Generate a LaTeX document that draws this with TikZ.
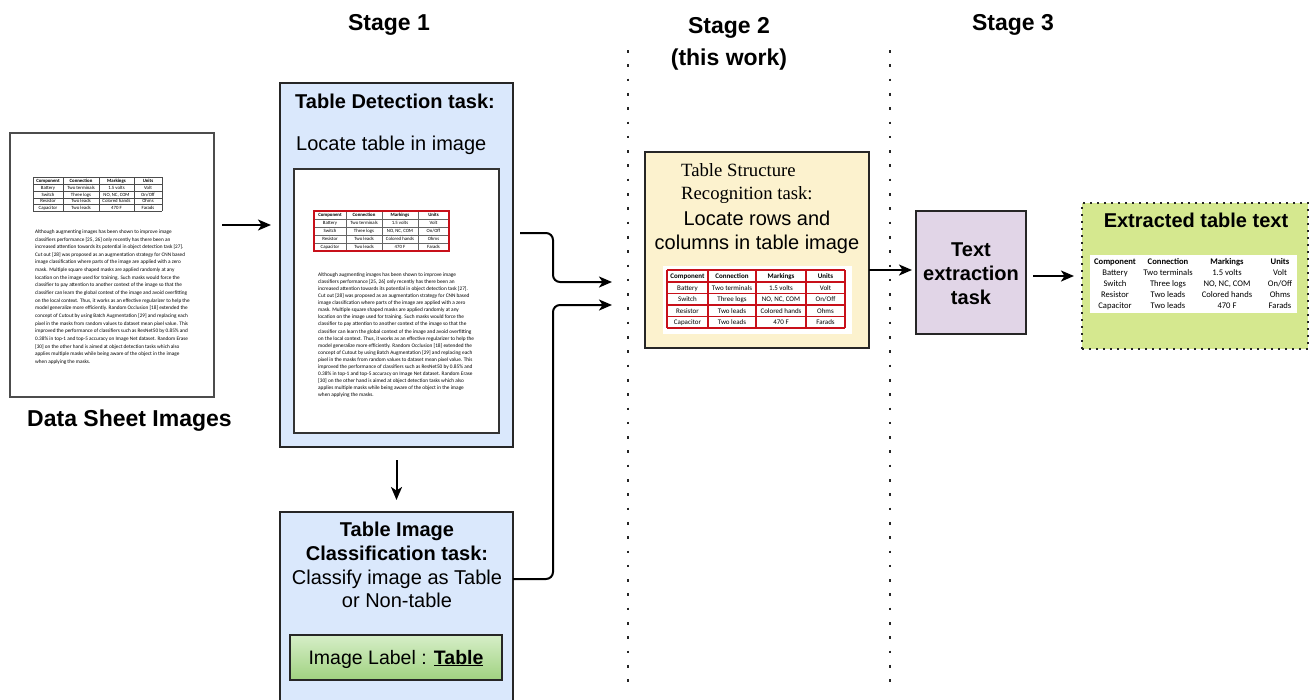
\documentclass[tikz,border=0pt]{standalone}
\usepackage{fontspec}
\setmainfont{Liberation Sans}
\newfontfamily\carlito{Carlito}
\newfontfamily\seriffont{Liberation Serif}
\usetikzlibrary{arrows.meta,calc}

\definecolor{detectblue}{RGB}{218,232,252}
\definecolor{structyellow}{RGB}{252,242,206}
\definecolor{extractpurple}{RGB}{225,213,231}
\definecolor{resultgreen}{RGB}{213,232,143}
\definecolor{labeltop}{RGB}{214,238,200}
\definecolor{labelbottom}{RGB}{160,210,128}
\definecolor{tablered}{RGB}{200,16,26}

% body text of the sample data sheet page
\newcommand\sheetparagraph{%
Although augmenting images has been shown to improve image\\
classifiers performance [25, 26] only recently has there been an\\
increased attention towards its potential in object detection task [27].\\
Cut out [28] was proposed as an augmentation strategy for CNN based\\
image classification where parts of the image are applied with a zero\\
mask. Multiple square shaped masks are applied randomly at any\\
location on the image used for training. Such masks would force the\\
classifier to pay attention to another context of the image so that the\\
classifier can learn the global context of the image and avoid overfitting\\
on the local context. Thus, it works as an effective regularizer to help the\\
model generalize more efficiently. Random Occlusion [18] extended the\\
concept of Cutout by using Batch Augmentation [29] and replacing each\\
pixel in the masks from random values to dataset mean pixel value. This\\
improved the performance of classifiers such as ResNet50 by 0.85\% and\\
0.38\% in top-1 and top-5 accuracy on Image Net dataset. Random Erase\\
{[30]} on the other hand is aimed at object detection tasks which also\\
applies multiple masks while being aware of the object in the image\\
when applying the masks.}

% rows of the component table
\newcommand\tabledata{{Component,Connection,Markings,Units},{Battery,Two terminals,1.5 volts,Volt},{Switch,Three logs,{NO, NC, COM},On/Off},{Resistor,Two leads,Colored hands,Ohms},{Capacitor,Two leads,470 F,Farads}}

% #1 name prefix, #2 column centres, #3 baseline of header row, #4 row pitch, #5 font
\newcommand\celltexts[5]{%
  \foreach \row [count=\r from 0] in \tabledata {
    \foreach \cell [count=\c from 0] in \row {
      \pgfmathsetmacro\cx{{#2}[\c]}
      \node[font=#5, inner sep=0pt, anchor=base] (#1-\r-\c) at (\cx, #3+\r*#4) {\ifnum\r=0 \bfseries\fi\cell};
    }
  }%
}

\begin{document}
\begin{tikzpicture}[x=1pt,y=-1pt,
  box/.style={draw=black!85, line width=1.5pt, inner sep=0pt, outer sep=0pt},
  arr/.style={line width=2pt, -{Stealth[length=13pt,width=11pt,inset=3.5pt]}},
  stagedots/.style={black!85, line width=2.6pt, dash pattern=on 2.6pt off 11.7pt},
  heading/.style={font=\bfseries\fontsize{23}{27}\selectfont, inner sep=0pt, anchor=base},
  big/.style={font=\fontsize{20}{24}\selectfont, inner sep=0pt, anchor=base},
  bigbold/.style={font=\bfseries\fontsize{20}{24}\selectfont, inner sep=0pt, anchor=base},
  para/.style={align=left, inner sep=0pt, anchor=north west},
]
\clip (0,0) rectangle (1309,699);
\fill[white] (0,0) rectangle (1309,699);

% stage headings
\node[heading] (st1) at (389,30) {Stage 1};
\node[heading] (st2) at (729,33) {Stage 2};
\node[heading] (st2b) at (729,65) {(this work)};
\node[heading] (st3) at (1013,30) {Stage 3};

% stage separators
\coordinate (sepAtop) at (628,50);
\coordinate (sepAbot) at (628,686);
\coordinate (sepBtop) at (890,50);
\coordinate (sepBbot) at (890,686);
\draw[stagedots] (sepAtop) -- (sepAbot);
\draw[stagedots] (sepBtop) -- (sepBbot);

% ---------- input data sheet ----------
\node[box, draw=black!70, line width=1.3pt, fill=white, minimum width=204pt, minimum height=264pt] (sheet) at (112,265) {};
\foreach \gx in {33,63,99,134,162} \draw[black!70, line width=0.5pt] (\gx,177) -- (\gx,211);
\foreach \gy in {177,184,191,198,204.5,211} \draw[black!70, line width=0.5pt] (33,\gy) -- (162,\gy);
\celltexts{sheettab}{48,81,116.5,148}{182.5}{6.8}{\carlito\fontsize{4.8}{5}\selectfont}
\node[para, font=\carlito\fontsize{5.25}{7.65}\selectfont] (sheettext) at (35,229.5) {\sheetparagraph};
\node[font=\bfseries\fontsize{23}{27}\selectfont, inner sep=0pt, anchor=base] (sheetlabel) at (129.5,426) {Data Sheet Images};

% ---------- stage 1: table detection ----------
\node[box, fill=detectblue, minimum width=233pt, minimum height=364pt] (detect) at (396.5,265) {};
\node[bigbold, anchor=base west] (detecttitle) at (295,108) {Table Detection task:};
\node[big, anchor=base west] (detectsub) at (296,150) {Locate table in image};
\node[box, draw=black!80, line width=2.2pt, fill=white, minimum width=205pt, minimum height=264pt] (page) at (396.5,301) {};
\foreach \gx in {346,382,418} \draw[black!60, line width=0.4pt] (\gx,211) -- (\gx,251);
\foreach \gy in {219,227,235,243} \draw[black!60, line width=0.4pt] (314,\gy) -- (449,\gy);
\celltexts{detecttab}{330,364,400,433.5}{216.8}{8}{\carlito\fontsize{4.8}{5}\selectfont}
\node[draw=tablered, line width=2.2pt, inner sep=0pt, minimum width=135pt, minimum height=40pt] (detectbox) at (381.5,231) {};
\node[para, font=\carlito\fontsize{5.3}{7.08}\selectfont] (pagetext) at (318,272.5) {\sheetparagraph};

% ---------- stage 1: classification ----------
\node[box, fill=detectblue, minimum width=233pt, minimum height=200pt] (classify) at (396.5,612) {};
\node[bigbold] (cls1) at (397,536) {Table Image};
\node[bigbold] (cls2) at (397,560) {Classification task:};
\node[big] (cls3) at (397,584) {Classify image as Table};
\node[big] (cls4) at (397,607) {or Non-table};
\node[box, top color=labeltop, bottom color=labelbottom, minimum width=212pt, minimum height=45pt] (label) at (396,657.5) {};
\node[font=\fontsize{19.5}{24}\selectfont, inner sep=0pt, anchor=base] (labeltext) at (396,664) {Image Label : \underline{\textbf{Table}}};

% ---------- stage 2: structure recognition ----------
\node[box, fill=structyellow, minimum width=224pt, minimum height=196pt] (stage2) at (757,250) {};
\node[font=\seriffont\fontsize{18.7}{22}\selectfont, inner sep=0pt, anchor=base west] (s2a) at (681,176.5) {Table Structure};
\node[font=\seriffont\fontsize{18.7}{22}\selectfont, inner sep=0pt, anchor=base west] (s2b) at (681,199.5) {Recognition task:};
\node[big] (s2c) at (757,225) {Locate rows and};
\node[big] (s2d) at (757,249) {columns in table image};
\fill[white] (663,266) rectangle (852,334);
\foreach \gx in {667,708,756,806,845} \draw[tablered, line width=1.4pt] (\gx,270) -- (\gx,328);
\foreach \gy in {270,282,293.5,305,316.5,328} \draw[tablered, line width=1.4pt] (667,\gy) -- (845,\gy);
\celltexts{structtab}{687.5,732,781,825.5}{278.5}{11.6}{\carlito\fontsize{7}{8}\selectfont}

% ---------- stage 3: text extraction ----------
\node[box, fill=extractpurple, minimum width=110pt, minimum height=123pt] (textext) at (971,272.5) {};
\node[bigbold] (te1) at (971,256) {Text};
\node[bigbold] (te2) at (971,280) {extraction};
\node[bigbold] (te3) at (971,304) {task};

% ---------- result ----------
\node[draw=black!85, line width=2pt, dash pattern=on 2pt off 5pt, fill=resultgreen, inner sep=0pt, minimum width=226pt, minimum height=146pt] (result) at (1195,276) {};
\node[bigbold] (resulttitle) at (1196,227) {Extracted table text};
\fill[white] (1090,255) rectangle (1297,313);
\celltexts{resulttab}{1115,1168,1227,1280}{264}{11.2}{\carlito\fontsize{8.6}{10}\selectfont}

% ---------- connectors ----------
\draw[arr] ([xshift=8pt,yshift=40pt]sheet.east) -- ([xshift=-9pt,yshift=40pt]detect.west);
\draw[arr] ([yshift=-13pt]detect.south) -- ([yshift=12pt]classify.north);
\draw[arr, rounded corners=7pt] ([xshift=7pt,yshift=32pt]detect.east) -- (553,233) -- (553,282) -- ([xshift=-33pt,yshift=-32pt]stage2.west);
\draw[arr, rounded corners=7pt] ([yshift=33pt]classify.east) -- (553,579) -- (553,305) -- ([xshift=-33pt,yshift=-55pt]stage2.west);
\draw[arr] ([yshift=-20pt]stage2.east) -- ([xshift=-4pt,yshift=2.5pt]textext.west);
\draw[arr] ($(textext.east |- result.west)+(7,0)$) -- ([xshift=-7pt]result.west);
\end{tikzpicture}
\end{document}
